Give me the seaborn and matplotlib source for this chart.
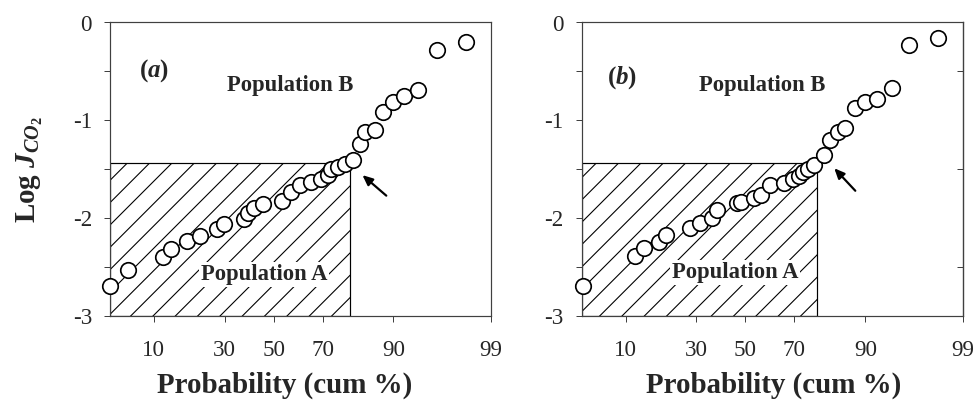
import numpy as np
import matplotlib
matplotlib.use("Agg")
import matplotlib.pyplot as plt
import seaborn as sns
from statistics import NormalDist

# ---------------- data ----------------
prob_a = [4.0, 6.0, 11.8, 13.7, 17.7, 21.5, 27.2, 29.7, 37.4, 39.2, 41.5, 45.5,
          53.7, 57.5, 60.9, 65.6, 69.5, 71.9, 72.9, 75.4, 77.6, 80.2, 82.1, 83.7,
          86.0, 88.0, 89.9, 91.8, 93.9, 96.0, 98.0]
logj_a = [-2.69, -2.53, -2.40, -2.32, -2.23, -2.18, -2.11, -2.06, -2.01, -1.95,
          -1.90, -1.86, -1.82, -1.73, -1.66, -1.63, -1.60, -1.56, -1.50, -1.48,
          -1.45, -1.41, -1.24, -1.12, -1.10, -0.91, -0.81, -0.75, -0.69, -0.28, -0.20]

prob_b = [4.1, 12.0, 13.9, 17.7, 19.9, 27.8, 31.5, 36.1, 38.1, 46.5, 48.3, 53.8,
          56.8, 60.3, 65.9, 69.6, 71.6, 73.0, 74.8, 76.9, 80.1, 81.8, 84.0, 85.7,
          88.0, 90.0, 92.0, 94.1, 96.0, 98.0]
logj_b = [-2.69, -2.39, -2.31, -2.24, -2.17, -2.10, -2.05, -2.00, -1.92, -1.85,
          -1.83, -1.79, -1.76, -1.66, -1.64, -1.60, -1.57, -1.53, -1.50, -1.46,
          -1.35, -1.20, -1.12, -1.08, -0.87, -0.81, -0.78, -0.67, -0.225, -0.16]

threshold_logj = -1.44
threshold_prob_a = 79.3
threshold_prob_b = 77.8
arrow_a = [(82.9, -1.56), (88.6, -1.77)]   # (tip, tail)
arrow_b = [(82.9, -1.49), (88.0, -1.72)]

xticks = [10, 30, 50, 70, 90, 99]
xlim = (3.99, 99.0)
yticks = [-3, -2, -1, 0]
yminor = [-2.5, -1.5, -0.5]
panel_labels = ["a", "b"]

# ---------------- style ----------------
DPI = 134
def pt(px):
    return px * 72.0 / DPI

sns.set_style("ticks")
plt.rcParams["font.family"] = ["Liberation Serif", "DejaVu Serif"]
plt.rcParams["mathtext.fontset"] = "custom"
plt.rcParams["mathtext.rm"] = "Liberation Serif"
plt.rcParams["mathtext.it"] = "Liberation Serif:italic"
plt.rcParams["mathtext.bf"] = "Liberation Serif:bold"
plt.rcParams["mathtext.bfit"] = "Liberation Serif:italic:bold"
plt.rcParams["hatch.linewidth"] = pt(1.1)
plt.rcParams["hatch.color"] = "black"

ND = NormalDist()
_fwd = np.vectorize(lambda p: ND.inv_cdf(min(max(p / 100.0, 1e-9), 1 - 1e-9)), otypes=[float])
_inv = np.vectorize(lambda z: ND.cdf(z) * 100.0, otypes=[float])

fig = plt.figure(figsize=(977.01 / DPI, 401.01 / DPI), dpi=DPI)
ax_a = fig.add_axes([110 / 977, (401 - 316) / 401, 381 / 977, 293.5 / 401])
ax_b = fig.add_axes([581.5 / 977, (401 - 316) / 401, 381.5 / 977, 293.5 / 401])

spine_col = "#404040"
tick_fs = pt(23)

panels = [
    (ax_a, prob_a, logj_a, threshold_prob_a, arrow_a, panel_labels[0],
     (0.115, 0.835), (0.472, 0.787), (0.404, 0.140)),
    (ax_b, prob_b, logj_b, threshold_prob_b, arrow_b, panel_labels[1],
     (0.106, 0.814), (0.473, 0.784), (0.402, 0.147)),
]

for i, (ax, px_, py_, thr_p, arr, lab, pos_lab, pos_b, pos_a) in enumerate(panels):
    ax.set_xscale("function", functions=(_fwd, _inv))
    ax.set_xlim(*xlim)
    ax.set_ylim(-3, 0)

    # hatched region of population A
    ax.fill_between([xlim[0], thr_p], -3, threshold_logj, facecolor="none",
                    edgecolor="black", hatch="//", linewidth=pt(1.2), zorder=1)

    sns.scatterplot(x=px_, y=py_, ax=ax, marker="o", s=pt(15.5) ** 2,
                    facecolor="white", edgecolor="black", linewidth=pt(1.7),
                    zorder=3, clip_on=False)

    ax.set_xticks(xticks)
    ax.set_xticklabels([str(t) for t in xticks])
    ax.xaxis.set_minor_locator(matplotlib.ticker.NullLocator())
    ax.set_yticks(yticks)
    ax.set_yticklabels([str(t) for t in yticks])
    ax.set_yticks(yminor, minor=True)

    ax.tick_params(axis="both", which="both", direction="out", length=pt(6),
                   width=pt(1), color=spine_col, labelsize=tick_fs,
                   top=False, right=False)
    ax.tick_params(axis="x", pad=pt(18))
    ax.tick_params(axis="y", pad=pt(12))
    for s in ax.spines.values():
        s.set_visible(True)
        s.set_color(spine_col)
        s.set_linewidth(pt(1.2))

    ax.set_xlabel("Probability (cum %)", fontsize=pt(29), fontweight="bold")
    ax.set_ylabel("")

    ax.text(*pos_lab, r"$\mathbf{(}\mathbfit{" + lab + r"}\mathbf{)}$",
            transform=ax.transAxes, ha="center", va="center", fontsize=pt(25))
    ax.text(*pos_b, "Population B", transform=ax.transAxes, ha="center",
            va="center", fontsize=pt(22.7), fontweight="bold")
    ax.text(*pos_a, "Population A", transform=ax.transAxes, ha="center",
            va="center", fontsize=pt(22.7), fontweight="bold", zorder=4,
            bbox=dict(facecolor="white", edgecolor="none", pad=pt(2)))

    ax.annotate("", xy=arr[0], xytext=arr[1],
                arrowprops=dict(arrowstyle="-|>,head_length=0.45,head_width=0.2",
                                color="black", lw=pt(2.2), shrinkA=0, shrinkB=0))

ax_a.xaxis.set_label_coords(0.459, -0.19)
ax_b.xaxis.set_label_coords(0.503, -0.19)

ax_a.set_ylabel(r"Log $\mathbfit{J}_{\mathbfit{CO}_{\mathbf{2}}}$",
                fontsize=pt(29), fontweight="bold")
ax_a.yaxis.set_label_coords(-0.17, 0.5)

# inward minor ticks on right spine of panel b
sec = ax_b.secondary_yaxis("right")
sec.set_yticks(yminor)
sec.set_yticklabels([])
sec.tick_params(direction="in", length=pt(6), width=pt(1), color=spine_col)
sec.spines["right"].set_color(spine_col)
sec.spines["right"].set_linewidth(pt(1.2))

fig.savefig("out.png", dpi=DPI)
